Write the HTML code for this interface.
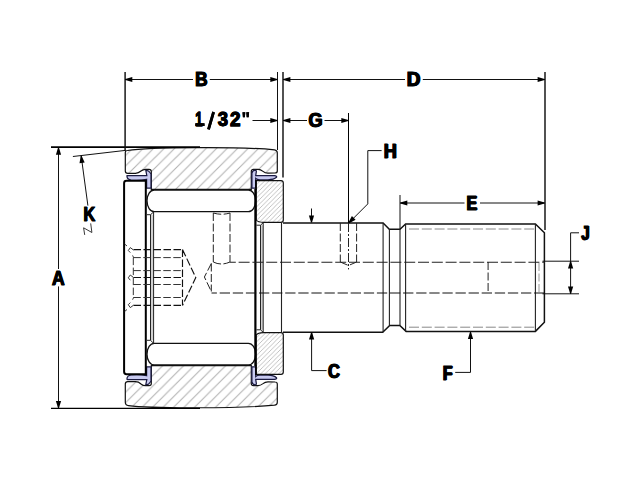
<!DOCTYPE html>
<html><head><meta charset="utf-8"><style>
html,body{margin:0;padding:0;background:#fff;width:640px;height:480px;overflow:hidden;}
svg{display:block;font-family:"Liberation Sans",sans-serif;}
</style></head><body>
<svg width="640" height="480" viewBox="0 0 640 480"><defs>
<pattern id="h1" patternUnits="userSpaceOnUse" x="8.0" y="0" width="10.5" height="10.5">
<path d="M-1,1 L1,-1 M0,10.5 L10.5,0 M9.5,11.5 L11.5,9.5" stroke="#b2b2b2" stroke-width="1.1"/></pattern>
<pattern id="h2" patternUnits="userSpaceOnUse" x="3.3" y="0" width="10.5" height="10.5">
<path d="M-1,1 L1,-1 M0,10.5 L10.5,0 M9.5,11.5 L11.5,9.5" stroke="#b2b2b2" stroke-width="1.1"/></pattern>
<pattern id="h3" patternUnits="userSpaceOnUse" x="0" y="0" width="4.5" height="4.5">
<path d="M-1,1 L1,-1 M0,4.5 L4.5,0 M3.5,5.5 L5.5,3.5" stroke="#999" stroke-width="0.6"/></pattern>
</defs>
<path d="M127.5,150.5 C150,147 240,146.5 274.5,149.8 Q277.3,150.2 277.3,152.8 L277.3,171 Q277.3,173 275,173 L268,173.2 Q265,173.2 263,171.4 Q260.5,169.4 258,169.4 L253.5,169.4 Q251.3,169.3 251.3,171.5 L251.3,189.4 L152.5,189.4 L151.3,189.4 L151.3,171.5 Q151.3,169.3 149,169.3 L145.5,169.3 Q143,169.3 141,171 Q138.5,173.3 135.5,173.3 L127.8,173.3 Q125.3,173.3 125.3,171 L125.3,152.3 Q125.3,150.6 127.5,150.5 Z" fill="url(#h1)" stroke="#111" stroke-width="1.2"/>
<path d="M128.5,405.6 C150,408.6 240,408.50 274.5,405.20 Q277.3,404.80 277.3,402.20 L277.3,384.00 Q277.3,382.00 275,382.00 L268,381.80 Q265,381.80 263,383.60 Q260.5,385.60 258,385.60 L253.5,385.60 Q251.3,385.70 251.3,383.50 L251.3,365.60 L152.5,365.60 L151.3,365.60 L151.3,383.50 Q151.3,385.70 149,385.70 L145.5,385.70 Q143,385.70 141,384.00 Q138.5,381.70 135.5,381.70 L127.8,381.70 Q125.3,381.70 125.3,384.00 L125.3,402.3 Q125.3,405.4 128.5,405.6 Z" fill="url(#h2)" stroke="#111" stroke-width="1.2"/>
<path d="M127,176.2 Q126.5,175.5 128.5,175.5 L146.8,175.5 L145.8,170.3 Q148.5,170 150,172.5 L151,174 L151,188.2 L146.6,188.2 L146.6,179.3 Q139,181 131,180 Q127,179.3 127,176.2 Z" fill="#c8caf0" stroke="#1a1a40" stroke-width="1.25"/>
<path d="M127,378.80 Q126.5,379.50 128.5,379.50 L146.8,379.50 L145.8,384.70 Q148.5,385.00 150,382.50 L151,381.00 L151,366.80 L146.6,366.80 L146.6,375.70 Q139,374.00 131,375.00 Q127,375.70 127,378.80 Z" fill="#c8caf0" stroke="#1a1a40" stroke-width="1.25"/>
<path d="M251.9,188.2 L251.9,173 Q252.5,170.4 255,170.1 Q256.6,170.1 256.3,171.8 L255.7,175.7 L274.5,175.7 Q277.2,175.9 276.5,177.3 Q274,179.6 268,179.8 L260,179.8 Q257,179.7 255.7,178.4 L255.7,188.2 Z" fill="#c8caf0" stroke="#1a1a40" stroke-width="1.25"/>
<path d="M251.9,366.80 L251.9,382.00 Q252.5,384.60 255,384.90 Q256.6,384.90 256.3,383.20 L255.7,379.30 L274.5,379.30 Q277.2,379.10 276.5,377.70 Q274,375.40 268,375.20 L260,375.20 Q257,375.30 255.7,376.60 L255.7,366.80 Z" fill="#c8caf0" stroke="#1a1a40" stroke-width="1.25"/>
<path d="M126.5,180.8 L145.8,180.8 L145.8,374.2 L126.5,374.2 Q124.1,374.2 124.1,371.8 L124.1,183.2 Q124.1,180.8 126.5,180.8 Z" fill="#fff" stroke="#000" stroke-width="2"/>
<rect x="147" y="190.0" width="108.6" height="21.7" rx="7.2" ry="10.85" fill="#fff" stroke="#111" stroke-width="1.3"/>
<rect x="147" y="343.3" width="108.6" height="21.7" rx="7.2" ry="10.85" fill="#fff" stroke="#111" stroke-width="1.3"/>
<rect x="150.5" y="214.7" width="3.1" height="125.6" fill="#d0d0d0"/>
<path d="M150.5,214.7 L150.5,340.3 M153.6,212 L153.6,343.3 M147,214.7 L150.5,214.7 L153.6,212 M147,340.3 L150.5,340.3 L153.6,343.3" fill="none" stroke="#222" stroke-width="1"/>
<path d="M256.2,180.6 L281,180.6 Q283.3,180.6 283.3,183 L283.3,220 Q283.3,222.3 281,222.3 L263.2,222.3 Q258,222.3 256.2,220 Z" fill="url(#h3)" stroke="#111" stroke-width="1.2"/>
<path d="M256.2,374.40 L281,374.40 Q283.3,374.40 283.3,372.00 L283.3,335.00 Q283.3,332.70 281,332.70 L263.2,332.70 Q258,332.70 256.2,335.00 Z" fill="url(#h3)" stroke="#111" stroke-width="1.2"/>
<rect x="260.5" y="225.2" width="2.7" height="104.6" fill="#d0d0d0"/>
<path d="M260.5,225.2 L260.5,329.8 M263.2,222.7 L263.2,332.3 M256.5,225.2 L260.5,225.2 L263.2,222.7 M256.5,329.8 L260.5,329.8 L263.2,332.3" fill="none" stroke="#222" stroke-width="1"/>
<path d="M255.4,189 L255.4,366" stroke="#000" stroke-width="2.2"/><path d="M255.9,180 L255.9,190 M255.9,365 L255.9,375" stroke="#000" stroke-width="1.4"/>
<path d="M283,222.9 L383.1,222.9 L389.3,229.2 L400,229.2 L405.6,223.9 L535.4,223.9 L544.4,232.8 L544.4,322.3 L535.4,331.4 L406.1,331.4 L399.8,325.5 L389.7,325.5 L382.7,332.3 L283,332.3" fill="none" stroke="#111" stroke-width="1.5"/>
<path d="M281.5,222.9 L281.5,332.3 M383.1,222.9 L383.1,332.3 M389.4,229.2 L389.4,325.5 M400,229.2 L400,325.5 M405.6,223.9 L405.6,331.4 M535.4,223.9 L535.4,331.4" fill="none" stroke="#222" stroke-width="1.1"/>
<path d="M409,229 L535,229 M409,327.2 L535,327.2" stroke="#888" stroke-width="1" stroke-dasharray="10,2.8"/>
<path d="M230,262.3 L545,262.3" stroke="#222" stroke-width="1.1" stroke-dasharray="11,2.8" stroke-dashoffset="5.2"/>
<path d="M211.5,293 L545,293" stroke="#111" stroke-width="1" stroke-dasharray="10.3,2.8" stroke-dashoffset="4.9"/>
<path d="M213.3,213 Q221.6,215.5 230,213 M213.3,213 L213.3,262 M230,213 L230,262 M213.3,262 Q221,266 230,262 M211.3,263.5 L211.3,291.5 M211.3,263.5 L204.4,277 L211.3,291.5 M340.3,223 L340.3,262 M356.6,223 L356.6,262 M340.3,262 L348.5,265.5 L356.6,262 M488.1,262 L488.1,293" fill="none" stroke="#222" stroke-width="1" stroke-dasharray="8,2.5"/>
<path d="M133.5,249.6 L182.5,249.6 M133.5,277.5 L182.5,277.5 M133.5,305.4 L182.5,305.4 M182.5,249.6 L182.5,305.4 M182.5,249.6 L195.8,277.5 L182.5,305.4" fill="none" stroke="#111" stroke-width="1.15" stroke-dasharray="7.5,2.5"/>
<path d="M133.3,257.6 L182.5,257.6 M133.3,270.6 L182.5,270.6 M133.3,284.5 L182.5,284.5 M133.3,297.5 L182.5,297.5 M133.3,257.6 L133.3,297.5" fill="none" stroke="#333" stroke-width="1" stroke-dasharray="7.5,2.5"/>
<path d="M124.6,244 L127,246 M124.6,311.5 L127,309.5 M133.5,250 L130.3,247.6 L128.3,250.5 L130.3,252.6 M133.5,277.5 L130.3,275 L128.3,277.8 L130.3,280.2 M133.5,305.2 L130.3,307.6 L128.3,304.7 L130.3,302.6 M132.6,255.4 L133.6,257.6 M132.6,299.7 L133.6,297.5" fill="none" stroke="#222" stroke-width="0.9"/>
<path d="M539,263 L539,293" stroke="#999" stroke-width="1" stroke-dasharray="8,2.5"/>
<path d="M348.5,113 L348.5,223" stroke="#000" stroke-width="1"/>
<path d="M348.5,223 L348.5,269.4" stroke="#222" stroke-width="1" stroke-dasharray="9,2,2,2"/>
<path d="M51,147.1 L200,147.1" stroke="#000" stroke-width="1.6"/><path d="M51,408.4 L200,408.4" stroke="#000" stroke-width="1.1"/>
<path d="M125.1,72 L125.1,151 M283,72 L283,177.5 M545,72 L545,230" stroke="#111" stroke-width="1.45" fill="none"/>
<path d="M58.5,148 L58.5,269 M58.5,286.4 L58.5,408 M277.5,72 L277.5,150 M125,79.5 L193,79.5 M209.8,79.5 L277.5,79.5 M283,79.5 L405,79.5 M422.8,79.5 L545,79.5 M252.5,120.5 L277.5,120.5 M283,120.5 L307,120.5 M324.5,120.5 L348.5,120.5 M348.8,222.9 L367.8,203.9 L367.8,150.6 L381.6,150.6 M311.5,208.5 L311.5,222 M311.6,333 L311.6,370.6 L326.6,370.6 M400,195 L400,229 M400,203 L464.5,203 M480,203 L545,203 M470.5,332 L470.5,372.4 L455.2,372.4 M542.5,261.2 L579,261.2 M542.5,293.8 L579,293.8 M570.6,261 L570.6,294 M570.6,261 L570.6,232.8 L579,232.8 M72.9,156.5 L125.4,150.4 M81.2,156 L87.9,205.6" fill="none" stroke="#111" stroke-width="1"/>
<path d="M84.7,234.9 L83.6,227.8 L91.9,232.5 L90.7,223.4" fill="none" stroke="#222" stroke-width="0.9"/>
<path d="M59.00,147.70 L61.10,154.70 L55.90,154.70 L58.00,147.70 Z" fill="#000"/>
<path d="M58.00,408.00 L55.90,401.00 L61.10,401.00 L59.00,408.00 Z" fill="#000"/>
<path d="M125.30,79.00 L132.30,76.90 L132.30,82.10 L125.30,80.00 Z" fill="#000"/>
<path d="M277.30,80.00 L270.30,82.10 L270.30,76.90 L277.30,79.00 Z" fill="#000"/>
<path d="M283.40,79.00 L290.40,76.90 L290.40,82.10 L283.40,80.00 Z" fill="#000"/>
<path d="M544.60,80.00 L537.60,82.10 L537.60,76.90 L544.60,79.00 Z" fill="#000"/>
<path d="M277.30,121.00 L270.30,123.10 L270.30,117.90 L277.30,120.00 Z" fill="#000"/>
<path d="M283.40,120.00 L290.40,117.90 L290.40,123.10 L283.40,121.00 Z" fill="#000"/>
<path d="M348.30,121.00 L341.30,123.10 L341.30,117.90 L348.30,120.00 Z" fill="#000"/>
<path d="M348.45,222.55 L351.91,216.11 L355.59,219.79 L349.15,223.25 Z" fill="#000"/>
<path d="M311.00,222.50 L308.90,215.50 L314.10,215.50 L312.00,222.50 Z" fill="#000"/>
<path d="M312.10,332.60 L314.20,339.60 L309.00,339.60 L311.10,332.60 Z" fill="#000"/>
<path d="M400.30,202.50 L407.30,200.40 L407.30,205.60 L400.30,203.50 Z" fill="#000"/>
<path d="M544.60,203.50 L537.60,205.60 L537.60,200.40 L544.60,202.50 Z" fill="#000"/>
<path d="M471.00,332.00 L473.10,339.00 L467.90,339.00 L470.00,332.00 Z" fill="#000"/>
<path d="M571.10,261.50 L573.20,268.50 L568.00,268.50 L570.10,261.50 Z" fill="#000"/>
<path d="M570.10,293.60 L568.00,286.60 L573.20,286.60 L571.10,293.60 Z" fill="#000"/>
<path d="M81.70,155.94 L84.68,162.61 L79.52,163.28 L80.70,156.06 Z" fill="#000"/>
<text x="195.19" y="126" font-family="Liberation Sans" font-weight="bold" font-size="20" textLength="7.31" lengthAdjust="spacingAndGlyphs" fill="#000" stroke="#000" stroke-width="0.85">1</text>
<path d="M208.5,129.3 L213.6,112.0" stroke="#000" stroke-width="2.7"/>
<text x="217.71" y="126" font-family="Liberation Sans" font-weight="bold" font-size="20" textLength="10.29" lengthAdjust="spacingAndGlyphs" fill="#000" stroke="#000" stroke-width="0.85">3</text>
<text x="230.00" y="126" font-family="Liberation Sans" font-weight="bold" font-size="20" textLength="10.51" lengthAdjust="spacingAndGlyphs" fill="#000" stroke="#000" stroke-width="0.85">2</text>
<path d="M242.5,112.2 L245.3,112.2 L244.9,117.3 L242.9,117.3 Z M246.3,112.2 L249.1,112.2 L248.7,117.3 L246.7,117.3 Z" fill="#000"/>
<rect x="195.4" y="123.3" width="9.1" height="2.7" fill="#000"/>
<text x="194.89" y="86.20" font-family="Liberation Sans" font-weight="bold" font-size="20.00" textLength="12.43" lengthAdjust="spacingAndGlyphs" fill="#000">B</text>
<text x="195.79" y="86.20" font-family="Liberation Sans" font-weight="bold" font-size="20.00" textLength="12.43" lengthAdjust="spacingAndGlyphs" fill="#000">B</text>
<text x="406.60" y="86.20" font-family="Liberation Sans" font-weight="bold" font-size="20.00" textLength="13.68" lengthAdjust="spacingAndGlyphs" fill="#000">D</text>
<text x="407.50" y="86.20" font-family="Liberation Sans" font-weight="bold" font-size="20.00" textLength="13.68" lengthAdjust="spacingAndGlyphs" fill="#000">D</text>
<text x="308.14" y="127.40" font-family="Liberation Sans" font-weight="bold" font-size="20.00" textLength="14.25" lengthAdjust="spacingAndGlyphs" fill="#000">G</text>
<text x="309.04" y="127.40" font-family="Liberation Sans" font-weight="bold" font-size="20.00" textLength="14.25" lengthAdjust="spacingAndGlyphs" fill="#000">G</text>
<text x="383.54" y="158.40" font-family="Liberation Sans" font-weight="bold" font-size="20.00" textLength="13.13" lengthAdjust="spacingAndGlyphs" fill="#000">H</text>
<text x="384.44" y="158.40" font-family="Liberation Sans" font-weight="bold" font-size="20.00" textLength="13.13" lengthAdjust="spacingAndGlyphs" fill="#000">H</text>
<text x="327.77" y="378.20" font-family="Liberation Sans" font-weight="bold" font-size="20.00" textLength="11.91" lengthAdjust="spacingAndGlyphs" fill="#000">C</text>
<text x="328.67" y="378.20" font-family="Liberation Sans" font-weight="bold" font-size="20.00" textLength="11.91" lengthAdjust="spacingAndGlyphs" fill="#000">C</text>
<text x="466.31" y="210.30" font-family="Liberation Sans" font-weight="bold" font-size="20.00" textLength="10.77" lengthAdjust="spacingAndGlyphs" fill="#000">E</text>
<text x="467.21" y="210.30" font-family="Liberation Sans" font-weight="bold" font-size="20.00" textLength="10.77" lengthAdjust="spacingAndGlyphs" fill="#000">E</text>
<text x="442.57" y="379.60" font-family="Liberation Sans" font-weight="bold" font-size="20.00" textLength="9.87" lengthAdjust="spacingAndGlyphs" fill="#000">F</text>
<text x="443.47" y="379.60" font-family="Liberation Sans" font-weight="bold" font-size="20.00" textLength="9.87" lengthAdjust="spacingAndGlyphs" fill="#000">F</text>
<text x="581.08" y="240.40" font-family="Liberation Sans" font-weight="bold" font-size="20.00" textLength="8.33" lengthAdjust="spacingAndGlyphs" fill="#000">J</text>
<text x="581.98" y="240.40" font-family="Liberation Sans" font-weight="bold" font-size="20.00" textLength="8.33" lengthAdjust="spacingAndGlyphs" fill="#000">J</text>
<text x="51.67" y="285.20" font-family="Liberation Sans" font-weight="bold" font-size="20.00" textLength="12.78" lengthAdjust="spacingAndGlyphs" fill="#000">A</text>
<text x="52.57" y="285.20" font-family="Liberation Sans" font-weight="bold" font-size="20.00" textLength="12.78" lengthAdjust="spacingAndGlyphs" fill="#000">A</text>
<text x="83.16" y="221.20" font-family="Liberation Sans" font-weight="bold" font-size="20.00" textLength="11.83" lengthAdjust="spacingAndGlyphs" fill="#000">K</text>
<text x="84.06" y="221.20" font-family="Liberation Sans" font-weight="bold" font-size="20.00" textLength="11.83" lengthAdjust="spacingAndGlyphs" fill="#000">K</text>
<text x="195.19" y="126" font-family="Liberation Sans" font-weight="bold" font-size="20" textLength="7.31" lengthAdjust="spacingAndGlyphs" fill="#000" stroke="#000" stroke-width="0.85">1</text>
<path d="M208.5,129.3 L213.6,112.0" stroke="#000" stroke-width="2.7"/>
<text x="217.71" y="126" font-family="Liberation Sans" font-weight="bold" font-size="20" textLength="10.29" lengthAdjust="spacingAndGlyphs" fill="#000" stroke="#000" stroke-width="0.85">3</text>
<text x="230.00" y="126" font-family="Liberation Sans" font-weight="bold" font-size="20" textLength="10.51" lengthAdjust="spacingAndGlyphs" fill="#000" stroke="#000" stroke-width="0.85">2</text>
<path d="M242.5,112.2 L245.3,112.2 L244.9,117.3 L242.9,117.3 Z M246.3,112.2 L249.1,112.2 L248.7,117.3 L246.7,117.3 Z" fill="#000"/>
<rect x="195.4" y="123.3" width="9.1" height="2.7" fill="#000"/>
<text x="194.89" y="86.20" font-family="Liberation Sans" font-weight="bold" font-size="20.00" textLength="12.43" lengthAdjust="spacingAndGlyphs" fill="#000" stroke="#000" stroke-width="0.85">B</text>
<text x="406.60" y="86.20" font-family="Liberation Sans" font-weight="bold" font-size="20.00" textLength="13.68" lengthAdjust="spacingAndGlyphs" fill="#000" stroke="#000" stroke-width="0.85">D</text>
<text x="308.14" y="127.40" font-family="Liberation Sans" font-weight="bold" font-size="20.00" textLength="14.25" lengthAdjust="spacingAndGlyphs" fill="#000" stroke="#000" stroke-width="0.85">G</text>
<text x="383.54" y="158.40" font-family="Liberation Sans" font-weight="bold" font-size="20.00" textLength="13.13" lengthAdjust="spacingAndGlyphs" fill="#000" stroke="#000" stroke-width="0.85">H</text>
<text x="327.77" y="378.20" font-family="Liberation Sans" font-weight="bold" font-size="20.00" textLength="11.91" lengthAdjust="spacingAndGlyphs" fill="#000" stroke="#000" stroke-width="0.85">C</text>
<text x="466.31" y="210.30" font-family="Liberation Sans" font-weight="bold" font-size="20.00" textLength="10.77" lengthAdjust="spacingAndGlyphs" fill="#000" stroke="#000" stroke-width="0.85">E</text>
<text x="442.57" y="379.60" font-family="Liberation Sans" font-weight="bold" font-size="20.00" textLength="9.87" lengthAdjust="spacingAndGlyphs" fill="#000" stroke="#000" stroke-width="0.85">F</text>
<text x="581.08" y="240.40" font-family="Liberation Sans" font-weight="bold" font-size="20.00" textLength="8.33" lengthAdjust="spacingAndGlyphs" fill="#000" stroke="#000" stroke-width="0.85">J</text>
<text x="51.67" y="285.20" font-family="Liberation Sans" font-weight="bold" font-size="20.00" textLength="12.78" lengthAdjust="spacingAndGlyphs" fill="#000" stroke="#000" stroke-width="0.85">A</text>
<text x="83.16" y="221.20" font-family="Liberation Sans" font-weight="bold" font-size="20.00" textLength="11.83" lengthAdjust="spacingAndGlyphs" fill="#000" stroke="#000" stroke-width="0.85">K</text></svg>
</body></html>
